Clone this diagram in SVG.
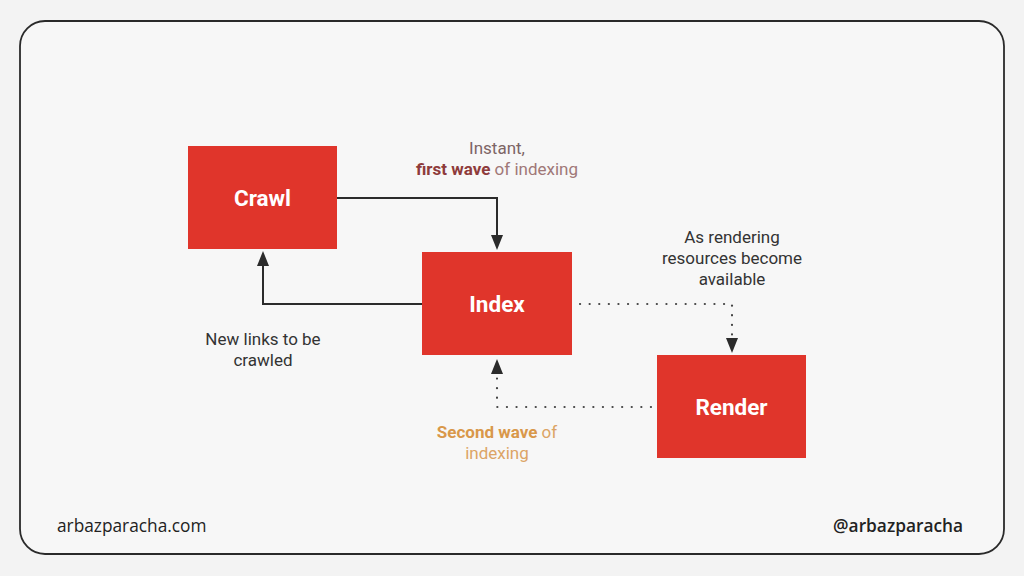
<svg xmlns="http://www.w3.org/2000/svg" width="1024" height="576" viewBox="0 0 1024 576">
<defs>
<style>
.box{fill:#e0352b}
.lbl{font-family:Roboto,"Liberation Sans",sans-serif;font-size:22.5px;font-weight:bold;fill:#ffffff;text-anchor:middle}
.ann{font-family:Roboto,"Liberation Sans",sans-serif;font-size:17px;fill:#333333;text-anchor:middle}
.solid{fill:none;stroke:#2b2b2b;stroke-width:2}
.dot{fill:none;stroke:#444;stroke-width:2.2;stroke-dasharray:0.1 9.5;stroke-linecap:round}
.foot{font-family:"Open Sans","Liberation Sans",sans-serif;font-size:17.3px;fill:#222}
.head{fill:#2b2b2b}
</style>
</defs>
<rect x="0" y="0" width="1024" height="576" fill="#f3f3f3"/>
<rect x="20" y="21" width="984" height="533" rx="25" fill="#f7f7f7" stroke="#2a2a2a" stroke-width="1.8"/>
<g id="connectors">
<path class="solid" d="M337,198 H497 V236"/>
<path class="head" d="M491,235 L503,235 L497,250 z"/>
<path class="solid" d="M422,304 H263 V265"/>
<path class="head" d="M257,266 L269,266 L263,251 z"/>
<path class="dot" d="M580,304 H732 V336"/>
<path class="head" d="M726,338 L738,338 L732,353 z"/>
<path class="dot" d="M651,407 H497 V376"/>
<path class="head" d="M491,374 L503,374 L497,359 z"/>
</g>
<g id="crawl">
<rect class="box" x="188" y="146" width="149" height="103"/>
<text class="lbl" x="262.5" y="206">Crawl</text>
</g>
<g id="index">
<rect class="box" x="422" y="252" width="150" height="103"/>
<text class="lbl" x="497" y="312">Index</text>
</g>
<g id="render">
<rect class="box" x="657" y="355" width="149" height="103"/>
<text class="lbl" x="731.5" y="415">Render</text>
</g>
<g id="labels">
<text class="ann" x="497" y="154" style="fill:#7d6565">Instant,</text>
<text class="ann" x="497" y="175"><tspan font-weight="bold" style="fill:#8e3b3b">first wave</tspan><tspan style="fill:#a07878"> of indexing</tspan></text>
<text class="ann" x="732" y="243">As rendering</text>
<text class="ann" x="732" y="264">resources become</text>
<text class="ann" x="732" y="285">available</text>
<text class="ann" x="263" y="345">New links to be</text>
<text class="ann" x="263" y="366">crawled</text>
<text class="ann" x="497" y="438"><tspan font-weight="bold" style="fill:#d9984a">Second wave</tspan><tspan style="fill:#dca465"> of</tspan></text>
<text class="ann" x="497" y="459" style="fill:#dca465">indexing</text>
</g>
<text class="foot" x="57" y="532">arbazparacha.com</text>
<text class="foot" x="963" y="532" text-anchor="end" font-weight="600">@arbazparacha</text>
</svg>
